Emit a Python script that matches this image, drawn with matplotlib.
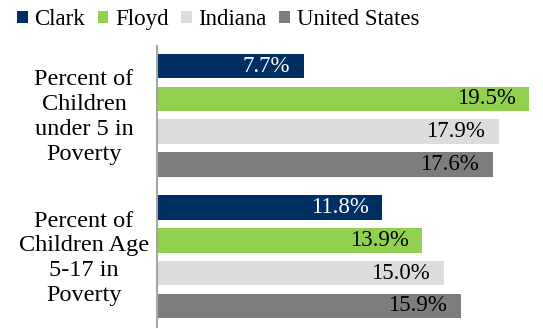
import matplotlib.pyplot as plt
import matplotlib.transforms as mtransforms
from matplotlib.patches import Patch

plt.rcParams["font.family"] = ["Liberation Serif", "DejaVu Serif"]

# ---- data ----
categories = ["Percent of\nChildren\nunder 5 in\nPoverty",
              "Percent of\nChildren Age\n5-17 in\nPoverty"]
series_names = ["Clark", "Floyd", "Indiana", "United States"]
clark = [7.7, 11.8]
floyd = [19.5, 13.9]
indiana = [17.9, 15.0]
united_states = [17.6, 15.9]

colors = ["#002f63", "#92d050", "#dcdcdc", "#7f7c7c"]
label_colors = ["white", "black", "black", "black"]

fig = plt.figure(figsize=(5.43, 3.29), dpi=100)
ax = fig.add_axes([157 / 543, 1 - 327 / 329, 382 / 543, 281 / 329])
cat_trans = mtransforms.blended_transform_factory(fig.transFigure, ax.transData)

group_gap = 4.3
bar_h = 0.75
all_series = [clark, floyd, indiana, united_states]
for gi, cat in enumerate(categories):
    base = gi * group_gap
    for si, vals in enumerate(all_series):
        y = base + si
        ax.barh(y, vals[gi], height=bar_h, color=colors[si])
        ax.annotate(f"{vals[gi]:.1f}%", (vals[gi], y), xytext=(-10, 0),
                    textcoords="offset points", ha="right", va="center",
                    fontsize=16.5, color=label_colors[si])
    # category label centred on the group
    ax.text(84 / 543, base + 1.55, cat, transform=cat_trans,
            ha="center", va="center", fontsize=17.5, linespacing=1.24)

ax.set_xlim(0, 20)
ax.set_ylim(group_gap + 3 + 0.64, -0.61)

for side in ["top", "right", "bottom"]:
    ax.spines[side].set_visible(False)
ax.spines["left"].set_color("#a6a6a6")
ax.spines["left"].set_linewidth(1.5)
ax.set_xticks([])
ax.set_yticks([])

handles = [Patch(facecolor=c, edgecolor="none") for c in colors]
fig.legend(handles, series_names, loc="upper left", bbox_to_anchor=(0.015, 0.999),
           ncol=4, frameon=False, fontsize=16.5, handlelength=0.45, handleheight=0.45,
           handletextpad=0.3, columnspacing=0.55, borderaxespad=0)

fig.savefig("out.png", dpi=100)
